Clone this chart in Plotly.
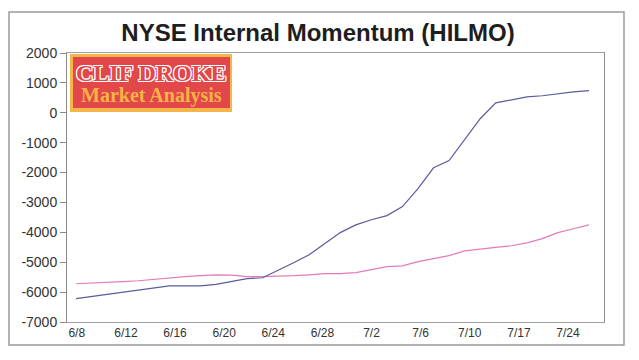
import plotly.graph_objects as go

# ---- data ----
tick_labels = ["6/8", "6/12", "6/16", "6/20", "6/24", "6/28", "7/2", "7/6", "7/10", "7/17", "7/24"]

y_tick_values = [2000, 1000, 0, -1000, -2000, -3000, -4000, -5000, -6000, -7000]
y_tick_labels = ["2000", "1000", "0", "-1000", "-2000", "-3000", "-4000", "-5000", "-6000", "-7000"]

hilmo_blue = [-6220, -6150, -6070, -5990, -5920, -5850, -5790, -5790, -5790, -5740,
              -5650, -5550, -5520, -5280, -5020, -4750, -4380, -4010, -3750, -3580,
              -3440, -3140, -2540, -1840, -1600, -900, -200, 330, 430, 530,
              570, 640, 700, 740]

hilmo_pink = [-5720, -5700, -5690, -5650, -5620, -5570, -5520, -5480, -5450, -5420,
              -5430, -5480, -5480, -5470, -5450, -5420, -5380, -5380, -5350, -5250,
              -5150, -5120, -4980, -4880, -4780, -4620, -4550, -4500, -4450, -4350,
              -4210, -4010, -3880, -3750]

x_idx = list(range(len(hilmo_blue)))
label_step = 3.16
tick_pos = [0.05 + label_step * k for k in range(len(tick_labels))]

fig = go.Figure()
fig.add_trace(go.Scatter(x=x_idx, y=hilmo_pink, mode="lines",
                         line=dict(color="#e27bb8", width=1.2), showlegend=False))
fig.add_trace(go.Scatter(x=x_idx, y=hilmo_blue, mode="lines",
                         line=dict(color="#5a5aa0", width=1.2), showlegend=False))

# page is rendered with the default 8px body margin -> work in page pixels minus offset
OFF = 8
W, H = 639 - OFF, 360 - OFF
L, R, T, B = 67 - OFF, 604 - OFF, 53 - OFF, 322 - OFF
pw, ph = R - L, B - T

def px(xp):
    return (xp - OFF - L) / pw

def py(yp):
    return 1 - (yp - OFF - T) / ph

shapes = [
    # outer frame
    dict(type="rect", xref="paper", yref="paper", x0=px(9), x1=px(624), y0=py(345), y1=py(12),
         line=dict(color="#9a9a9a", width=1.5), layer="below"),
    # logo
    dict(type="rect", xref="paper", yref="paper", x0=px(70), x1=px(232), y0=py(112), y1=py(54),
         fillcolor="#f6b54a", line=dict(width=0)),
    dict(type="rect", xref="paper", yref="paper", x0=px(73), x1=px(230), y0=py(108), y1=py(57),
         fillcolor="#e2474a", line=dict(width=0)),
]

outline = ("1px 0 0 #ffffff, -1px 0 0 #ffffff, 0 1px 0 #ffffff, 0 -1px 0 #ffffff, "
           "1px 1px 0 #ffffff, -1px -1px 0 #ffffff, 1px -1px 0 #ffffff, -1px 1px 0 #ffffff")

annotations = [
    dict(text="<b>CLIF DROKE</b>", xref="paper", yref="paper", x=px(151), y=py(73),
         xanchor="center", yanchor="middle", showarrow=False,
         font=dict(family="Liberation Serif, DejaVu Serif, serif", size=24, color="#e2474a",
                   shadow=outline)),
    dict(text="<b>Market Analysis</b>", xref="paper", yref="paper", x=px(151), y=py(96),
         xanchor="center", yanchor="middle", showarrow=False,
         font=dict(family="Liberation Serif, DejaVu Serif, serif", size=20, color="#f7b445")),
]

fig.update_layout(
    width=W, height=H,
    margin=dict(l=L, r=W - R, t=T, b=H - B),
    paper_bgcolor="white", plot_bgcolor="white",
    title=dict(text="<b>NYSE Internal Momentum (HILMO)</b>", x=(318 - OFF) / W, xanchor="center",
               y=1 - (33 - OFF) / H, yanchor="middle", yref="container",
               font=dict(family="Liberation Sans, Arial, sans-serif", size=24, color="#1e1e1e")),
    shapes=shapes, annotations=annotations,
    font=dict(family="Liberation Sans, Arial, sans-serif", color="#333333"),
)

fig.update_xaxes(range=[-0.58, 33.965], tickmode="array", tickvals=tick_pos, ticktext=tick_labels,
                 showgrid=False, zeroline=False, showline=True, mirror=True,
                 linecolor="#a0a0a0", linewidth=1, ticks="", ticklen=2,
                 tickfont=dict(size=12, color="#333333"))
fig.update_yaxes(range=[-7000, 2000], tickmode="array", tickvals=y_tick_values, ticktext=y_tick_labels,
                 showgrid=False, zeroline=False,
                 showline=True, mirror=True, linecolor="#8a8a8a", linewidth=1,
                 ticks="outside", ticklen=6, tickcolor="#8a8a8a",
                 tickfont=dict(size=14, color="#333333"))

fig.write_html("out.html")
